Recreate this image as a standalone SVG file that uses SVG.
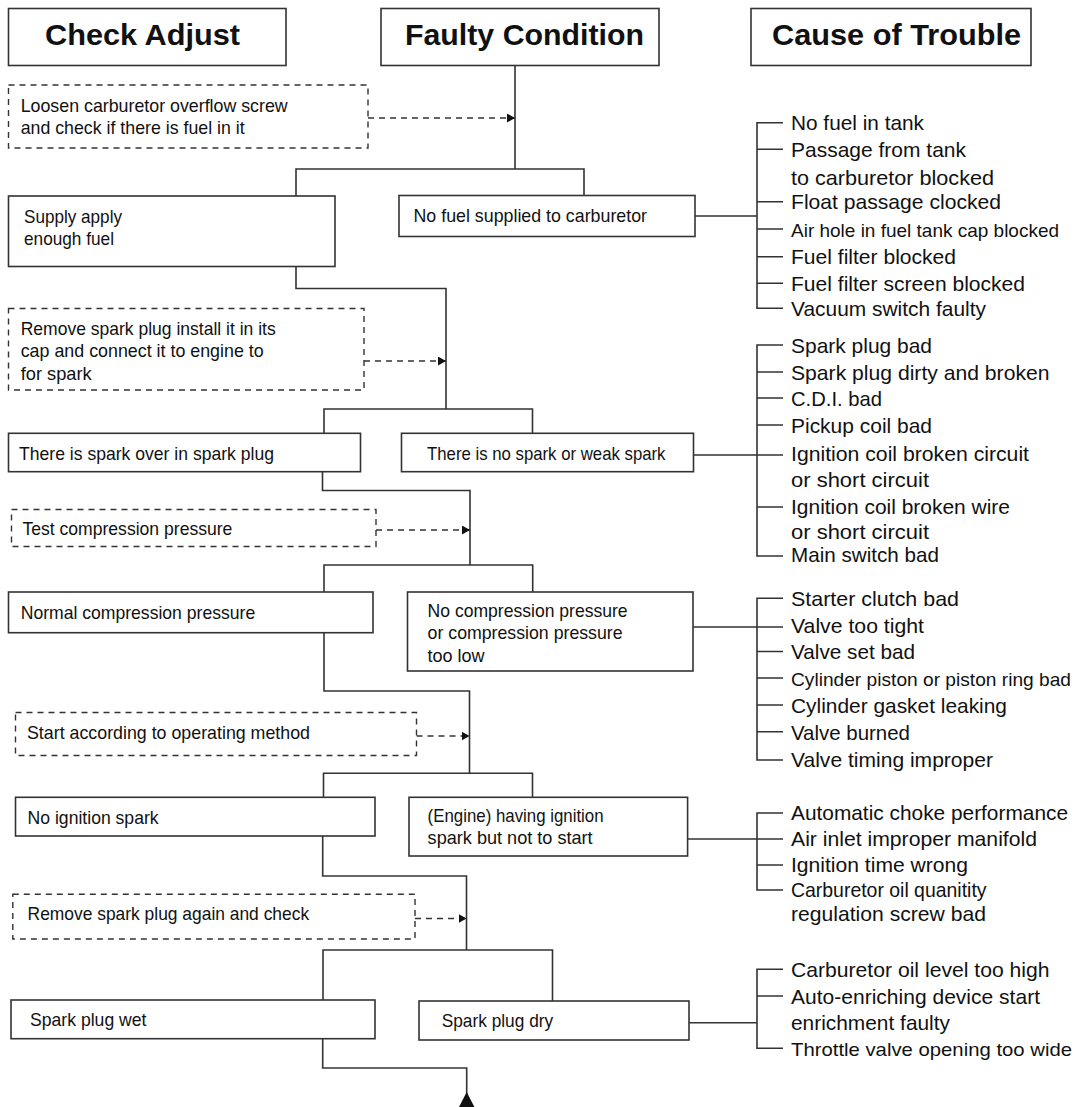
<svg xmlns="http://www.w3.org/2000/svg" width="1077" height="1107" viewBox="0 0 1077 1107">
<style>
text{font-family:"Liberation Sans",Arial,sans-serif;fill:#111}
.hd{font-weight:bold;font-size:30px}
.t{font-size:19px}
.c{font-size:21px}
.cs{font-size:19px}
.box{fill:#fff;stroke:#333;stroke-width:1.6}
.dbox{fill:#fff;stroke:#333;stroke-width:1.4;stroke-dasharray:6 5}
.ln{fill:none;stroke:#333;stroke-width:1.6}
.dl{fill:none;stroke:#333;stroke-width:1.4;stroke-dasharray:6 5}
</style>
<defs>
<marker id="ah" markerUnits="userSpaceOnUse" markerWidth="8" markerHeight="9" refX="8" refY="4.5" orient="auto">
<path d="M0,0 L8,4.5 L0,9 z" fill="#111"/>
</marker>
</defs>
<rect width="1077" height="1107" fill="#fff"/>

<g id="connectors">
<!-- trunk 1 -->
<path class="ln" d="M515,65.5 V169 M296,196 V169 H584 V195.5"/>
<line class="dl" x1="368" y1="118" x2="515" y2="118" marker-end="url(#ah)"/>
<!-- trunk 2 -->
<path class="ln" d="M296,266.5 V288.5 H446 V409 M324,433.3 V409 H532.5 V433.3"/>
<line class="dl" x1="364" y1="361" x2="446" y2="361" marker-end="url(#ah)"/>
<!-- trunk 3 -->
<path class="ln" d="M322.5,471.7 V490.5 H470 V565 M324,592 V565 H532.7 V592"/>
<line class="dl" x1="376" y1="530" x2="470" y2="530" marker-end="url(#ah)"/>
<!-- trunk 4 -->
<path class="ln" d="M324,632.7 V691 H469.5 V773.3 M323.5,797.3 V773.3 H532.5 V797.3"/>
<line class="dl" x1="416.5" y1="736" x2="469.5" y2="736" marker-end="url(#ah)"/>
<!-- trunk 5 -->
<path class="ln" d="M322.7,836 V876 H466.5 V950 M323,1000 V950 H552.5 V1001"/>
<line class="dl" x1="415" y1="918.5" x2="466.5" y2="918.5" marker-end="url(#ah)"/>
<!-- trunk 6 -->
<path class="ln" d="M322.7,1038.7 V1068 H466.7 V1095"/>
<polygon points="466.7,1092 459,1107 474.4,1107" fill="#111"/>
<!-- bracket 1 -->
<path class="ln" d="M695,216 H757 M783,122.7 H757 V308.3 H783 M757,149.3 H783 M757,201.7 H783 M757,229 H783 M757,256.7 H783 M757,283.3 H783"/>
<!-- bracket 2 -->
<path class="ln" d="M693.5,455 H783 M783,345 H757 V556 H783 M757,372 H783 M757,398 H783 M757,425 H783 M757,507 H783"/>
<!-- bracket 3 -->
<path class="ln" d="M693,627 H783 M783,598.3 H757 V760 H783 M757,651.5 H783 M757,678 H783 M757,705 H783 M757,731.7 H783"/>
<!-- bracket 4 -->
<path class="ln" d="M687.6,839 H783 M783,813 H757 V890 H783 M757,865 H783"/>
<!-- bracket 5 -->
<path class="ln" d="M689,1022.7 H757 M783,969.3 H757 V1048.3 H783 M757,996 H783"/>
</g>

<g id="header-check-adjust">
<rect class="box" x="8.5" y="8.5" width="277.5" height="57"/>
<text class="hd" x="45" y="45" textLength="195" lengthAdjust="spacingAndGlyphs">Check Adjust</text>
</g>
<g id="header-faulty-condition">
<rect class="box" x="381" y="8.5" width="278" height="57"/>
<text class="hd" x="405" y="45" textLength="239" lengthAdjust="spacingAndGlyphs">Faulty Condition</text>
</g>
<g id="header-cause">
<rect class="box" x="751" y="8.5" width="280" height="57"/>
<text class="hd" x="772" y="45" textLength="249" lengthAdjust="spacingAndGlyphs">Cause of Trouble</text>
</g>

<g id="check-1">
<rect class="dbox" x="8.5" y="85" width="359.5" height="63"/>
<text class="t" x="20.7" y="112" textLength="267" lengthAdjust="spacingAndGlyphs">Loosen carburetor overflow screw</text>
<text class="t" x="20.7" y="134" textLength="224" lengthAdjust="spacingAndGlyphs">and check if there is fuel in it</text>
</g>
<g id="supply-fuel">
<rect class="box" x="8.5" y="196" width="326.5" height="70.5"/>
<text class="t" x="24" y="223.3" textLength="98" lengthAdjust="spacingAndGlyphs">Supply apply</text>
<text class="t" x="24" y="245" textLength="90" lengthAdjust="spacingAndGlyphs">enough fuel</text>
</g>
<g id="no-fuel">
<rect class="box" x="399" y="195.5" width="296" height="41"/>
<text class="t" x="413.5" y="222.3" textLength="233.5" lengthAdjust="spacingAndGlyphs">No fuel supplied to carburetor</text>
</g>
<g id="causes-1">
<text class="c" x="791" y="130" textLength="133" lengthAdjust="spacingAndGlyphs">No fuel in tank</text>
<text class="c" x="791" y="157" textLength="175" lengthAdjust="spacingAndGlyphs">Passage from tank</text>
<text class="c" x="791" y="184.5" textLength="203" lengthAdjust="spacingAndGlyphs">to carburetor blocked</text>
<text class="c" x="791" y="209" textLength="210" lengthAdjust="spacingAndGlyphs">Float passage clocked</text>
<text class="cs" x="791" y="236.5" textLength="268" lengthAdjust="spacingAndGlyphs">Air hole in fuel tank cap blocked</text>
<text class="c" x="791" y="264" textLength="165" lengthAdjust="spacingAndGlyphs">Fuel filter blocked</text>
<text class="c" x="791" y="291" textLength="234" lengthAdjust="spacingAndGlyphs">Fuel filter screen blocked</text>
<text class="c" x="791" y="316" textLength="195" lengthAdjust="spacingAndGlyphs">Vacuum switch faulty</text>
</g>

<g id="check-2">
<rect class="dbox" x="8.5" y="308.5" width="355.5" height="81.5"/>
<text class="t" x="20.7" y="335" textLength="255" lengthAdjust="spacingAndGlyphs">Remove spark plug install it in its</text>
<text class="t" x="20.7" y="357.3" textLength="243" lengthAdjust="spacingAndGlyphs">cap and connect it to engine to</text>
<text class="t" x="20.7" y="379.5" textLength="71" lengthAdjust="spacingAndGlyphs">for spark</text>
</g>
<g id="spark-over">
<rect class="box" x="8.5" y="433.3" width="352" height="38.4"/>
<text class="t" x="19" y="460" textLength="255" lengthAdjust="spacingAndGlyphs">There is spark over in spark plug</text>
</g>
<g id="no-spark">
<rect class="box" x="401.5" y="433.3" width="292" height="38.4"/>
<text class="t" x="427" y="460" textLength="238.5" lengthAdjust="spacingAndGlyphs">There is no spark or weak spark</text>
</g>
<g id="causes-2">
<text class="c" x="791" y="353" textLength="141" lengthAdjust="spacingAndGlyphs">Spark plug bad</text>
<text class="c" x="791" y="379.5" textLength="258.5" lengthAdjust="spacingAndGlyphs">Spark plug dirty and broken</text>
<text class="c" x="791" y="405.5" textLength="91" lengthAdjust="spacingAndGlyphs">C.D.I. bad</text>
<text class="c" x="791" y="432.5" textLength="141" lengthAdjust="spacingAndGlyphs">Pickup coil bad</text>
<text class="c" x="791" y="460.5" textLength="238" lengthAdjust="spacingAndGlyphs">Ignition coil broken circuit</text>
<text class="c" x="791" y="487" textLength="138" lengthAdjust="spacingAndGlyphs">or short circuit</text>
<text class="c" x="791" y="514" textLength="219" lengthAdjust="spacingAndGlyphs">Ignition coil broken wire</text>
<text class="c" x="791" y="538.5" textLength="138" lengthAdjust="spacingAndGlyphs">or short circuit</text>
<text class="c" x="791" y="562" textLength="148" lengthAdjust="spacingAndGlyphs">Main switch bad</text>
</g>

<g id="check-3">
<rect class="dbox" x="11.5" y="509.5" width="364.5" height="37"/>
<text class="t" x="22.4" y="535" textLength="210" lengthAdjust="spacingAndGlyphs">Test compression pressure</text>
</g>
<g id="normal-compression">
<rect class="box" x="8.5" y="592" width="364.5" height="40.7"/>
<text class="t" x="20.7" y="618.5" textLength="234.5" lengthAdjust="spacingAndGlyphs">Normal compression pressure</text>
</g>
<g id="no-compression">
<rect class="box" x="407.5" y="592" width="285.5" height="79"/>
<text class="t" x="427.6" y="616.7" textLength="200" lengthAdjust="spacingAndGlyphs">No compression pressure</text>
<text class="t" x="427.6" y="639.3" textLength="195" lengthAdjust="spacingAndGlyphs">or compression pressure</text>
<text class="t" x="427.6" y="661.7" textLength="57" lengthAdjust="spacingAndGlyphs">too low</text>
</g>
<g id="causes-3">
<text class="c" x="791" y="605.5" textLength="168" lengthAdjust="spacingAndGlyphs">Starter clutch bad</text>
<text class="c" x="791" y="632.5" textLength="133" lengthAdjust="spacingAndGlyphs">Valve too tight</text>
<text class="c" x="791" y="659" textLength="124" lengthAdjust="spacingAndGlyphs">Valve set bad</text>
<text class="cs" x="791" y="685.5" textLength="280" lengthAdjust="spacingAndGlyphs">Cylinder piston or piston ring bad</text>
<text class="c" x="791" y="712.5" textLength="216" lengthAdjust="spacingAndGlyphs">Cylinder gasket leaking</text>
<text class="c" x="791" y="739.5" textLength="119" lengthAdjust="spacingAndGlyphs">Valve burned</text>
<text class="c" x="791" y="766.5" textLength="202" lengthAdjust="spacingAndGlyphs">Valve timing improper</text>
</g>

<g id="check-4">
<rect class="dbox" x="15.5" y="712.5" width="401" height="43"/>
<text class="t" x="27" y="738.5" textLength="283" lengthAdjust="spacingAndGlyphs">Start according to operating method</text>
</g>
<g id="no-ignition">
<rect class="box" x="15.5" y="797.3" width="359.5" height="38.7"/>
<text class="t" x="27.6" y="824" textLength="131" lengthAdjust="spacingAndGlyphs">No ignition spark</text>
</g>
<g id="engine-no-start">
<rect class="box" x="409" y="797.3" width="278.6" height="58.7"/>
<text class="t" x="427.6" y="822" textLength="176" lengthAdjust="spacingAndGlyphs">(Engine) having ignition</text>
<text class="t" x="427.6" y="844" textLength="165" lengthAdjust="spacingAndGlyphs">spark but not to start</text>
</g>
<g id="causes-4">
<text class="c" x="791" y="820" textLength="277" lengthAdjust="spacingAndGlyphs">Automatic choke performance</text>
<text class="c" x="791" y="846" textLength="246" lengthAdjust="spacingAndGlyphs">Air inlet improper manifold</text>
<text class="c" x="791" y="872" textLength="177" lengthAdjust="spacingAndGlyphs">Ignition time wrong</text>
<text class="c" x="791" y="897" textLength="195.5" lengthAdjust="spacingAndGlyphs">Carburetor oil quanitity</text>
<text class="c" x="791" y="920.5" textLength="195" lengthAdjust="spacingAndGlyphs">regulation screw bad</text>
</g>

<g id="check-5">
<rect class="dbox" x="12.8" y="894.3" width="402.2" height="44.7"/>
<text class="t" x="27.6" y="920" textLength="281.5" lengthAdjust="spacingAndGlyphs">Remove spark plug again and check</text>
</g>
<g id="plug-wet">
<rect class="box" x="11" y="1000" width="364" height="38.7"/>
<text class="t" x="30" y="1026" textLength="116.5" lengthAdjust="spacingAndGlyphs">Spark plug wet</text>
</g>
<g id="plug-dry">
<rect class="box" x="419" y="1001" width="270" height="39"/>
<text class="t" x="441.7" y="1027" textLength="111.5" lengthAdjust="spacingAndGlyphs">Spark plug dry</text>
</g>
<g id="causes-5">
<text class="c" x="791" y="976.8" textLength="258.5" lengthAdjust="spacingAndGlyphs">Carburetor oil level too high</text>
<text class="c" x="791" y="1003.5" textLength="249" lengthAdjust="spacingAndGlyphs">Auto-enriching device start</text>
<text class="c" x="791" y="1030" textLength="159" lengthAdjust="spacingAndGlyphs">enrichment faulty</text>
<text class="cs" x="791" y="1055.8" textLength="281" lengthAdjust="spacingAndGlyphs">Throttle valve opening too wide</text>
</g>
</svg>
